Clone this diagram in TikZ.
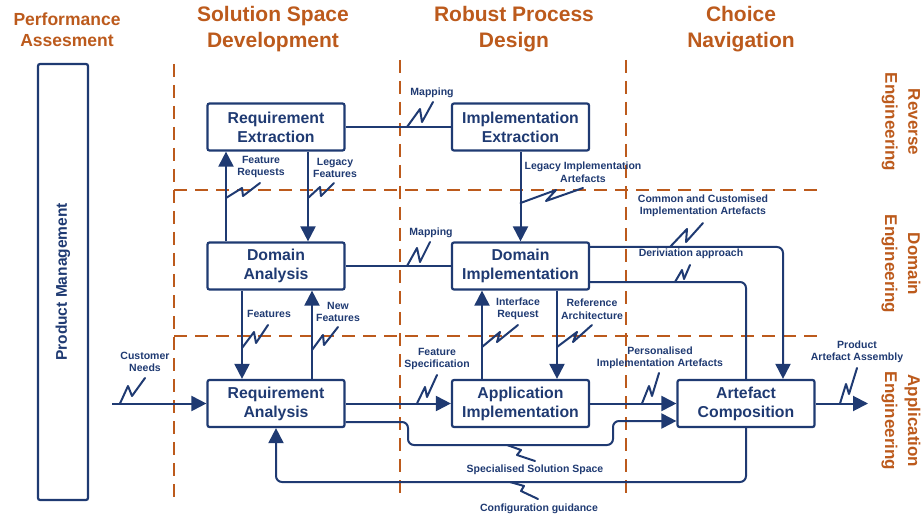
\documentclass[tikz,border=0pt]{standalone}
\usepackage{fontspec}
\setmainfont{Liberation Sans}
\usetikzlibrary{arrows.meta,calc}
\definecolor{navy}{HTML}{1F3A72}
\definecolor{rust}{HTML}{BC5A1C}
\begin{document}
\begin{tikzpicture}[x=1pt,y=-1pt,
  box/.style={draw=navy, line width=2.2pt, rounded corners=2pt, minimum width=137pt, minimum height=47pt, inner sep=0pt, align=center, text=navy, font=\fontsize{15.8}{19}\selectfont\bfseries},
  con/.style={draw=navy, line width=2pt, rounded corners=6pt},
  arr/.style={con, -{Triangle[length=15pt,width=15pt]}},
  zz/.style={draw=navy, line width=2pt, line join=round, line cap=round},
  lbl/.style={text=navy, font=\fontsize{10.5}{12.5}\selectfont\bfseries, align=center, inner sep=0pt},
  head/.style={text=rust, font=\fontsize{21}{26}\selectfont\bfseries, align=center, inner sep=0pt},
  side/.style={text=rust, font=\fontsize{17}{23}\selectfont\bfseries, align=center, inner sep=0pt, rotate=-90},
  sepline/.style={draw=rust, line width=2pt, dash pattern=on 13pt off 8pt},
]
\useasboundingbox (0,0) rectangle (923,521);

% grid of dashed separators
\draw[sepline] (174,64) -- (174,500);
\draw[sepline] (400,60) -- (400,498);
\draw[sepline] (626,60) -- (626,498);
\draw[sepline] (174,190) -- (823,190);
\draw[sepline] (174,336) -- (823,336);

% headings
\node[head, font=\fontsize{17.5}{21}\selectfont\bfseries] (hpa) at (67,30) {Performance\\Assesment};
\node[head] (hss) at (273,29) {Solution Space\\Development};
\node[head] (hrp) at (514,29) {Robust Process\\Design};
\node[head] (hcn) at (741,29) {Choice\\Navigation};
\node[side] (hre) at (901,122) {Reverse\\Engineering};
\node[side] (hde) at (901,264) {Domain\\Engineering};
\node[side] (hae) at (901,421) {Application\\Engineering};

% product management
\node[draw=navy, line width=2.2pt, rounded corners=2pt, minimum width=50pt, minimum height=436pt, inner sep=0pt] (pm) at (63,282) {};
\node[text=navy, font=\fontsize{15.5}{19}\selectfont\bfseries, rotate=90, inner sep=0pt] (pmt) at (63,282) {Product Management};

% boxes
\node[box] (re) at (276,127) {Requirement\\Extraction};
\node[box] (ie) at (520.5,127) {Implementation\\Extraction};
\node[box] (da) at (276,266) {Domain\\Analysis};
\node[box] (di) at (520.5,266) {Domain\\Implementation};
\node[box] (ra) at (276,403.5) {Requirement\\Analysis};
\node[box] (ai) at (520.5,403.5) {Application\\Implementation};
\node[box] (ac) at (746,403.5) {Artefact\\Composition};

% helper coordinates
\coordinate (x226) at (226,0);
\coordinate (x308) at (308,0);
\coordinate (x242) at (242,0);
\coordinate (x312) at (312,0);
\coordinate (x482) at (482,0);
\coordinate (x557) at (557,0);
\coordinate (x783) at (783,0);
\coordinate (y421) at (0,421);
\coordinate (y247) at (0,247);
\coordinate (y282) at (0,282);
\coordinate (cneed) at (112,403.5);
\coordinate (pout) at (868,403.5);

% connectors
\draw[con] (re) -- (ie);
\draw[con] (da) -- (di);
\draw[arr] (da.north -| x226) -- (re.south -| x226);
\draw[arr] (re.south -| x308) -- (da.north -| x308);
\draw[arr] (ie) -- (di);
\draw[arr] (da.south -| x242) -- (ra.north -| x242);
\draw[arr] (ra.north -| x312) -- (da.south -| x312);
\draw[arr] (ai.north -| x482) -- (di.south -| x482);
\draw[arr] (di.south -| x557) -- (ai.north -| x557);
\draw[arr] (cneed) -- (ra.west);
\draw[arr] (ra.east) -- (ai.west);
\draw[arr] (ai.east) -- (ac.west);
\draw[arr] (ra.east |- 0,422) -- (408,422) -- (408,445) -- (613,445) -- (613,421) -- (ac.west |- y421);
\draw[arr] (ac.south) -- (746,482) -- (276,482) -- (ra.south);
\draw[arr] (di.east |- y247) -- (783,247) -- (ac.north -| x783);
\draw[con] (di.east |- y282) -- (746,282) -- (ac.north);
\draw[arr] (ac.east) -- (pout);

% lightning marks
\draw[zz] (407,127) -- (420,109) -- (422,122) -- (433,102);
\draw[zz] (407,266) -- (417,248) -- (420,262) -- (430,242);
\draw[zz] (226,198) -- (242,188) -- (243,196) -- (260,183);
\draw[zz] (308,198) -- (320,187) -- (321,196) -- (334,183);
\draw[zz] (520.5,203) -- (556,190) -- (546,201) -- (583,188);
\draw[zz] (242,348) -- (254,332) -- (256,343) -- (268,325);
\draw[zz] (312,350) -- (323,335) -- (324,345) -- (338,327);
\draw[zz] (482,347) -- (500,332) -- (497,342) -- (518,325);
\draw[zz] (557,347) -- (577,332) -- (573,342) -- (592,325);
\draw[zz] (120,403.5) -- (128,386) -- (132,396) -- (145,378);
\draw[zz] (417,403.5) -- (425,387) -- (427,397) -- (437,375);
\draw[zz] (642,403.5) -- (649,386) -- (652,396) -- (659,373);
\draw[zz] (840,403.5) -- (846,384) -- (849,394) -- (857,368);
\draw[zz] (670,247) -- (687,229) -- (686,242) -- (703,223);
\draw[zz] (675,282) -- (682,270) -- (684,279) -- (690,265);
\draw[zz] (507,445) -- (521,450) -- (517,455) -- (535,461);
\draw[zz] (510,482) -- (524,486) -- (521,491) -- (538,499);

% labels
\node[lbl] (lm1) at (432,93) {Mapping};
\node[lbl] (lm2) at (431,233) {Mapping};
\node[lbl] (lfr) at (261,167) {Feature\\Requests};
\node[lbl] (llf) at (335,168) {Legacy\\Features};
\node[lbl] (lli) at (583,172) {Legacy Implementation\\Artefacts};
\node[lbl] (lcc) at (703,206) {Common and Customised\\Implementation Artefacts};
\node[lbl] (lda) at (691,254) {Deriviation approach};
\node[lbl] (lfe) at (269,314) {Features};
\node[lbl] (lnf) at (338,312) {New\\Features};
\node[lbl] (lir) at (518,309) {Interface\\Request};
\node[lbl] (lra) at (592,309) {Reference\\Architecture};
\node[lbl] (lcn) at (145,362) {Customer\\Needs};
\node[lbl] (lfs) at (437,359) {Feature\\Specification};
\node[lbl] (lpi) at (660,358) {Personalised\\Implementation Artefacts};
\node[lbl] (lpa) at (857,352) {Product\\Artefact Assembly};
\node[lbl] (lss) at (535,470) {Specialised Solution Space};
\node[lbl] (lcg) at (539,509) {Configuration guidance};
\end{tikzpicture}
\end{document}
